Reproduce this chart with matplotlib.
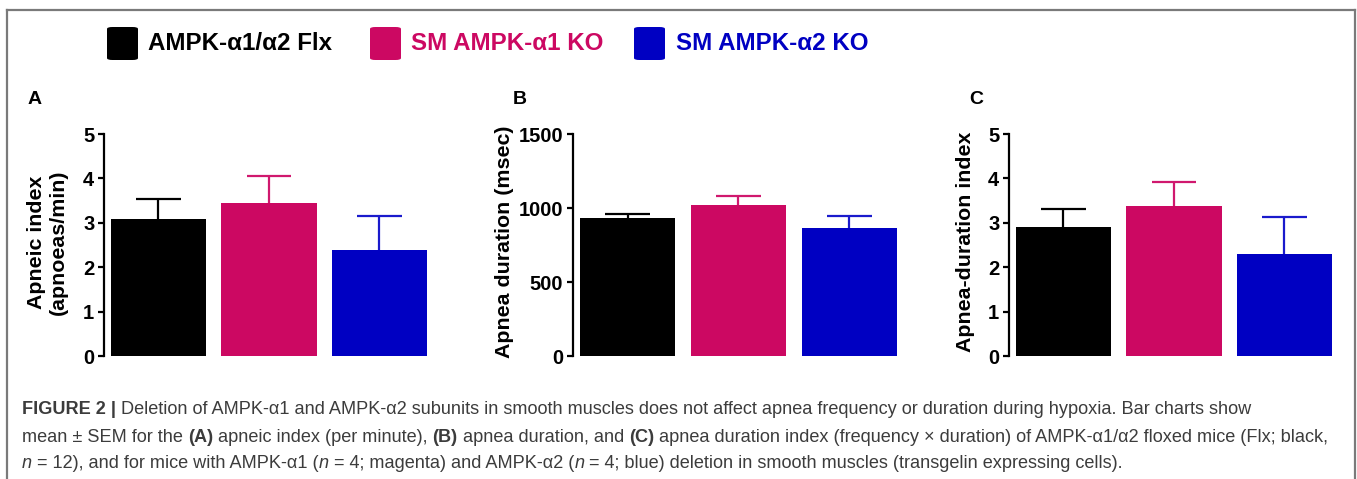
import matplotlib
matplotlib.use("Agg")
import matplotlib.pyplot as plt
from matplotlib.patches import FancyBboxPatch
from matplotlib.lines import Line2D

# ---------------- data ----------------
groups = ["AMPK-\u03b11/\u03b12 Flx", "SM AMPK-\u03b11 KO", "SM AMPK-\u03b12 KO"]
colors = ["#000000", "#CC0862", "#0000C2"]
err_colors = ["#000000", "#D0186E", "#1A1ACC"]

apneic_index = [3.08, 3.44, 2.39]
apneic_index_sem = [0.45, 0.62, 0.77]

apnea_duration = [930, 1020, 867]
apnea_duration_sem = [31, 58, 81]

duration_index = [2.905, 3.38, 2.29]
duration_index_sem = [0.40, 0.55, 0.83]

panel_letters = ["A", "B", "C"]
ylabels = ["Apneic index\n(apnoeas/min)", "Apnea duration (msec)", "Apnea-duration index"]
yticks_A = [0, 1, 2, 3, 4, 5]
yticks_B = [0, 500, 1000, 1500]
yticks_C = [0, 1, 2, 3, 4, 5]

# ---------------- figure ----------------
W, H = 1357, 479
fig = plt.figure(figsize=(W / 100, H / 100), dpi=100)
FONT = "Liberation Sans"
plt.rcParams["font.family"] = [FONT, "DejaVu Sans"]

def fx(x):
    return x / W

def fy(y):
    return 1 - y / H

# border
bc = "#7a7a7a"
for (x0, y0, x1, y1) in [(7, 10, 1355, 10), (7, 10, 7, 479), (1355, 10, 1355, 479)]:
    fig.add_artist(Line2D([fx(x0), fx(x1)], [fy(y0), fy(y1)], color=bc, lw=1.6,
                          transform=fig.transFigure))

# legend
leg_sq_x = [107, 370, 634]
leg_tx_x = [148, 411, 676]
for sx, tx, c, g in zip(leg_sq_x, leg_tx_x, colors, groups):
    p = FancyBboxPatch((fx(sx), fy(60)), fx(31), 33 / H,
                       boxstyle="round,pad=0,rounding_size=0.004",
                       transform=fig.transFigure, facecolor=c, edgecolor="none")
    fig.add_artist(p)
    fig.text(fx(tx), fy(44), g, color=c, fontsize=17.4, fontweight="bold",
             va="center", ha="left")

# panels
panels = [
    (104, 430, apneic_index, apneic_index_sem, (0, 5), yticks_A),
    (573, 900, apnea_duration, apnea_duration_sem, (0, 1500), yticks_B),
    (1009, 1335, duration_index, duration_index_sem, (0, 5), yticks_C),
]
letter_x = [35, 520, 976]
ylabel_x = [47, 505, 965]

y_top, y_bot = 134, 356
for i, (x0, x1, vals, sems, ylim, yt) in enumerate(panels):
    ax = fig.add_axes([fx(x0), fy(y_bot), (x1 - x0) / W, (y_bot - y_top) / H])
    pos = list(range(len(vals)))
    ax.bar(pos, vals, width=0.86, color=colors, edgecolor="none", zorder=2)
    tops = [v + s for v, s in zip(vals, sems)]
    ax.vlines(pos, vals, tops, colors=err_colors, linewidth=1.6, zorder=1)
    ax.hlines(tops, [p_ - 0.2 for p_ in pos], [p_ + 0.2 for p_ in pos],
              colors=err_colors, linewidth=1.6, zorder=1)
    ax.set_xlim(-0.493, 2.457)
    ax.set_ylim(*ylim)
    ax.set_yticks(yt)
    ax.set_xticks([])
    for sp in ["top", "right", "bottom"]:
        ax.spines[sp].set_visible(False)
    ax.spines["left"].set_linewidth(1.6)
    ax.tick_params(axis="y", length=4, width=1.6, pad=3, labelsize=14.5)
    for lab in ax.get_yticklabels():
        lab.set_fontweight("bold")
    ax.patch.set_visible(False)
    fig.text(fx(letter_x[i]), fy(100), panel_letters[i], fontsize=14,
             fontweight="bold", ha="center", va="center")
    fig.text(fx(ylabel_x[i]), fy(242), ylabels[i], fontsize=15.4,
             fontweight="bold", rotation=90, ha="center", va="center",
             multialignment="center", linespacing=1.2)

# caption (rich text drawn piecewise)
cap_color = "#3c3c3c"
cap_size = 13.1
lines = [
    [("FIGURE 2 | ", "bold", "normal"),
     ("Deletion of AMPK-\u03b11 and AMPK-\u03b12 subunits in smooth muscles does not affect apnea frequency or duration during hypoxia. Bar charts show", "normal", "normal")],
    [("mean \u00b1 SEM for the ", "normal", "normal"), ("(A)", "bold", "normal"),
     (" apneic index (per minute), ", "normal", "normal"), ("(B)", "bold", "normal"),
     (" apnea duration, and ", "normal", "normal"), ("(C)", "bold", "normal"),
     (" apnea duration index (frequency \u00d7 duration) of AMPK-\u03b11/\u03b12 floxed mice (Flx; black,", "normal", "normal")],
    [("n", "normal", "italic"), (" = 12), and for mice with AMPK-\u03b11 (", "normal", "normal"),
     ("n", "normal", "italic"), (" = 4; magenta) and AMPK-\u03b12 (", "normal", "normal"),
     ("n", "normal", "italic"), (" = 4; blue) deletion in smooth muscles (transgelin expressing cells).", "normal", "normal")],
]
line_y = [410, 437, 464]
renderer = fig.canvas.get_renderer()
for segs, ly in zip(lines, line_y):
    x = 22
    for txt, wt, st in segs:
        t = fig.text(fx(x), fy(ly), txt, fontsize=cap_size, fontweight=wt,
                     fontstyle=st, color=cap_color, ha="left", va="center")
        bb = t.get_window_extent(renderer)
        x += bb.width

fig.savefig("out.png", dpi=100)
